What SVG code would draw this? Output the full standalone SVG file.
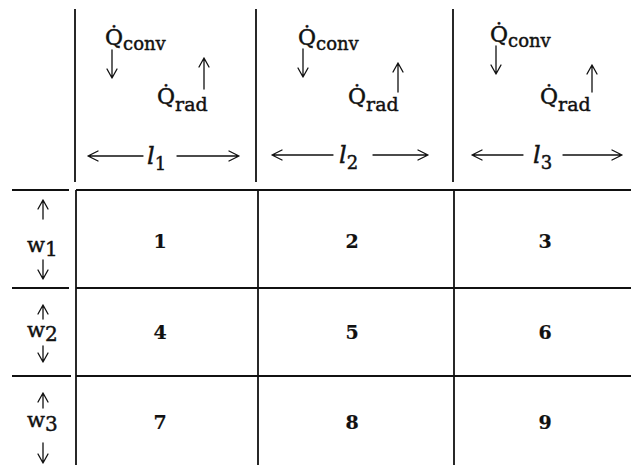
<svg xmlns="http://www.w3.org/2000/svg" width="631" height="465" viewBox="0 0 631 465">
<style>
.ln{stroke:#111;stroke-width:1.8;fill:none}
.ar{stroke:#111;stroke-width:1.3;fill:none;stroke-linecap:round;stroke-linejoin:round}
.t{font-family:"DejaVu Serif","Liberation Serif",serif;fill:#111;stroke:#111;stroke-width:0.45}
.q{font-size:22px}
.sub{font-size:18px}
.rsub{font-size:19px}
.el{font-size:24px;font-style:italic}
.num{font-size:19px;font-weight:bold;text-anchor:middle;stroke-width:0.2}
.w{font-size:21px}
.ws{font-size:20px}
</style>
<rect width="631" height="465" fill="#fff"/>
<g id="connectors">
<line class="ln" x1="75" y1="9" x2="75" y2="182"/>
<line class="ln" x1="256" y1="9" x2="256" y2="182"/>
<line class="ln" x1="453" y1="9" x2="453" y2="182"/>
<line class="ln" x1="76" y1="190" x2="631" y2="190"/>
<line class="ln" x1="76" y1="288" x2="631" y2="288"/>
<line class="ln" x1="76" y1="376" x2="631" y2="376"/>
<line class="ln" x1="12" y1="190" x2="69" y2="190"/>
<line class="ln" x1="12" y1="288" x2="69" y2="288"/>
<line class="ln" x1="12" y1="376" x2="71" y2="376"/>
<line class="ln" x1="76" y1="190" x2="76" y2="465"/>
<line class="ln" x1="258" y1="190" x2="258" y2="465"/>
<line class="ln" x1="454" y1="190" x2="454" y2="465"/>
<path class="ar" d="M112 50V78M107 69L112 78L117 69"/>
<path class="ar" d="M303 49V77M298 68L303 77L308 68"/>
<path class="ar" d="M496 46V74M491 65L496 74L501 65"/>
<path class="ar" d="M204 89V58M199 67L204 58L209 67"/>
<path class="ar" d="M398 92V63M393 72L398 63L403 72"/>
<path class="ar" d="M592 92V65M587 74L592 65L597 74"/>
<path class="ar" d="M88 156H143M98 151L88 156L98 161M177 156H239M229 151L239 156L229 161"/>
<path class="ar" d="M272 155H333M282 150L272 155L282 160M373 155H428M418 150L428 155L418 160"/>
<path class="ar" d="M472 155H523M482 150L472 155L482 160M563 155H622M612 150L622 155L612 160"/>
<path class="ar" d="M43 219V200M38 209L43 200L48 209M43 260V279M38 270L43 279L48 270"/>
<path class="ar" d="M43 319V305M38 314L43 305L48 314M43 346V362M38 353L43 362L48 353"/>
<path class="ar" d="M43 408V393M38 402L43 393L48 402M43 443V463M38 454L43 463L48 454"/>
</g>
<g id="col1-header">
<text class="t q" x="105" y="45">Q̇<tspan class="sub" dy="5">conv</tspan></text>
<text class="t q" x="157" y="104">Q̇<tspan class="rsub" dy="7">rad</tspan></text>
<text class="t el" x="147" y="164">l<tspan class="sub" font-style="normal" dy="6">1</tspan></text>
</g>
<g id="col2-header">
<text class="t q" x="298" y="45">Q̇<tspan class="sub" dy="5">conv</tspan></text>
<text class="t q" x="348" y="104">Q̇<tspan class="rsub" dy="7">rad</tspan></text>
<text class="t el" x="339" y="163">l<tspan class="sub" font-style="normal" dy="6">2</tspan></text>
</g>
<g id="col3-header">
<text class="t q" x="490" y="42">Q̇<tspan class="sub" dy="5">conv</tspan></text>
<text class="t q" x="540" y="104">Q̇<tspan class="rsub" dy="7">rad</tspan></text>
<text class="t el" x="533" y="163">l<tspan class="sub" font-style="normal" dy="6">3</tspan></text>
</g>
<g id="row1-label"><text class="t w" x="27" y="252">w<tspan class="ws" dy="4">1</tspan></text></g>
<g id="row2-label"><text class="t w" x="27" y="337">w<tspan class="ws" dy="4">2</tspan></text></g>
<g id="row3-label"><text class="t w" x="27" y="427">w<tspan class="ws" dy="4">3</tspan></text></g>
<g id="cell1"><text class="t num" x="160" y="248">1</text></g>
<g id="cell2"><text class="t num" x="352" y="248">2</text></g>
<g id="cell3"><text class="t num" x="545" y="248">3</text></g>
<g id="cell4"><text class="t num" x="160" y="339">4</text></g>
<g id="cell5"><text class="t num" x="352" y="339">5</text></g>
<g id="cell6"><text class="t num" x="545" y="339">6</text></g>
<g id="cell7"><text class="t num" x="160" y="429">7</text></g>
<g id="cell8"><text class="t num" x="352" y="429">8</text></g>
<g id="cell9"><text class="t num" x="545" y="429">9</text></g>
</svg>
